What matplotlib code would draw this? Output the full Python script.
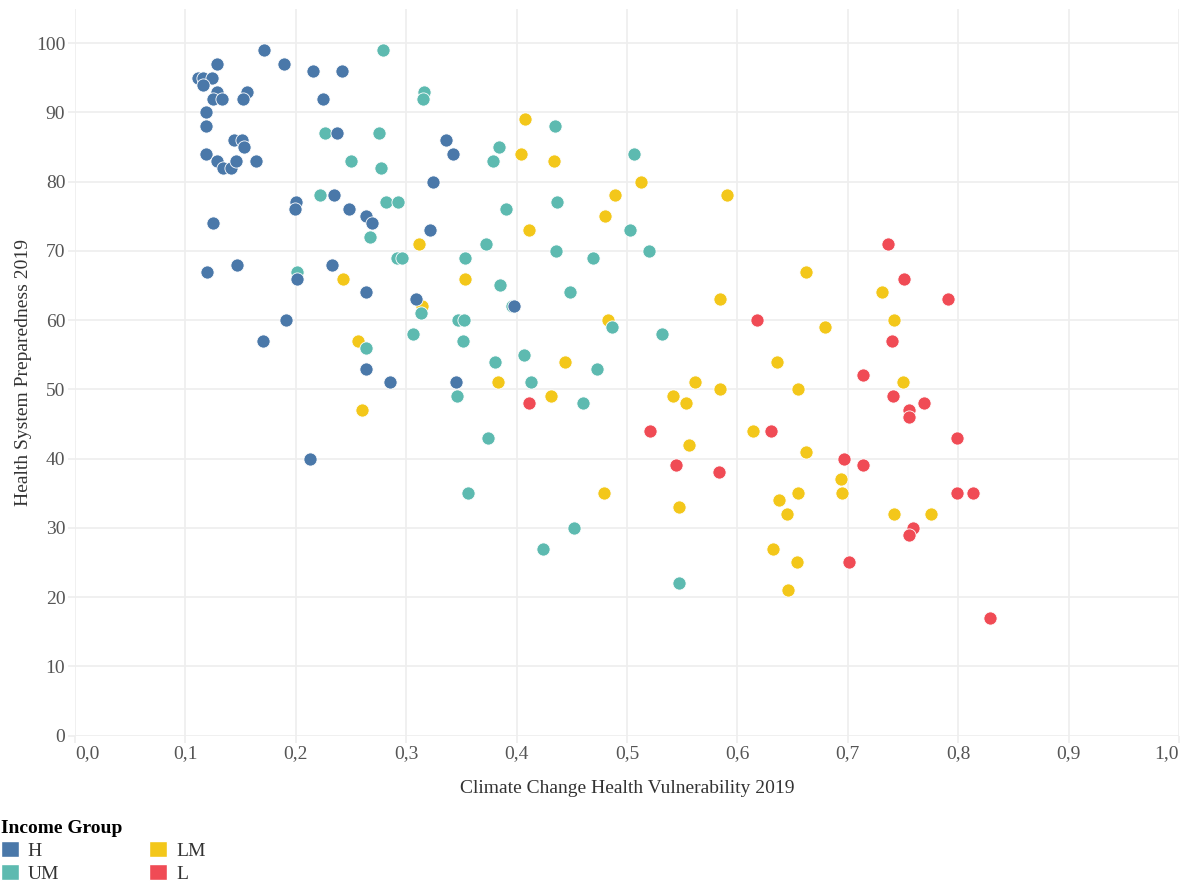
import matplotlib
matplotlib.use("Agg")
import matplotlib.pyplot as plt
from matplotlib.patches import Patch
from matplotlib.ticker import FuncFormatter

plt.rcParams['font.family'] = ['Liberation Serif', 'DejaVu Serif']

# income group H
h_x = [0.111, 0.116, 0.124, 0.116, 0.129, 0.129, 0.125, 0.133, 0.156, 0.152,
       0.119, 0.119, 0.144, 0.151, 0.153, 0.119, 0.129, 0.134, 0.141, 0.146,
       0.164, 0.125, 0.120, 0.147, 0.171, 0.189, 0.216, 0.242, 0.225, 0.237,
       0.200, 0.199, 0.235, 0.248, 0.264, 0.269, 0.233, 0.201, 0.264, 0.191,
       0.170, 0.264, 0.285, 0.213, 0.336, 0.342, 0.324, 0.322, 0.309, 0.398,
       0.345]
h_y = [95, 95, 95, 94, 97, 93, 92, 92, 93, 92,
       90, 88, 86, 86, 85, 84, 83, 82, 82, 83,
       83, 74, 67, 68, 99, 97, 96, 96, 92, 87,
       77, 76, 78, 76, 75, 74, 68, 66, 64, 60,
       57, 53, 51, 40, 86, 84, 80, 73, 63, 62,
       51]

# income group UM
um_x = [0.279, 0.226, 0.275, 0.250, 0.277, 0.222, 0.282, 0.293, 0.267, 0.292,
        0.296, 0.201, 0.264, 0.316, 0.315, 0.384, 0.379, 0.506, 0.435, 0.390,
        0.437, 0.503, 0.372, 0.436, 0.520, 0.353, 0.469, 0.385, 0.448, 0.313,
        0.347, 0.352, 0.306, 0.351, 0.380, 0.407, 0.396, 0.486, 0.532, 0.473,
        0.413, 0.346, 0.460, 0.374, 0.356, 0.452, 0.424, 0.547]
um_y = [99, 87, 87, 83, 82, 78, 77, 77, 72, 69,
        69, 67, 56, 93, 92, 85, 83, 84, 88, 76,
        77, 73, 71, 70, 70, 69, 69, 65, 64, 61,
        60, 60, 58, 57, 54, 55, 62, 59, 58, 53,
        51, 49, 48, 43, 35, 30, 27, 22]

# income group LM
lm_x = [0.243, 0.256, 0.260, 0.408, 0.404, 0.434, 0.513, 0.489, 0.591, 0.480,
        0.411, 0.312, 0.353, 0.584, 0.314, 0.483, 0.636, 0.444, 0.383, 0.431,
        0.562, 0.542, 0.553, 0.584, 0.655, 0.614, 0.556, 0.479, 0.547, 0.638,
        0.645, 0.655, 0.632, 0.654, 0.646, 0.662, 0.731, 0.742, 0.679, 0.750,
        0.662, 0.694, 0.695, 0.742, 0.775]
lm_y = [66, 57, 47, 89, 84, 83, 80, 78, 78, 75,
        73, 71, 66, 63, 62, 60, 54, 54, 51, 49,
        51, 49, 48, 50, 50, 44, 42, 35, 33, 34,
        32, 35, 27, 25, 21, 67, 64, 60, 59, 51,
        41, 37, 35, 32, 32]

# income group L
l_x = [0.411, 0.521, 0.544, 0.583, 0.618, 0.630, 0.736, 0.751, 0.791, 0.740,
       0.714, 0.741, 0.769, 0.755, 0.755, 0.799, 0.697, 0.714, 0.799, 0.813,
       0.759, 0.755, 0.701, 0.829]
l_y = [48, 44, 39, 38, 60, 44, 71, 66, 63, 57,
       52, 49, 48, 47, 46, 43, 40, 39, 35, 35,
       30, 29, 25, 17]

groups = ['H', 'UM', 'LM', 'L']
colors = {'H': '#4a78a9', 'UM': '#5dbab0', 'LM': '#f3c71a', 'L': '#f04b55'}
data = {'H': (h_x, h_y), 'UM': (um_x, um_y), 'LM': (lm_x, lm_y), 'L': (l_x, l_y)}

fig = plt.figure(figsize=(11.87, 8.84), dpi=100)
ax = fig.add_axes([75 / 1187, 1 - 735.5 / 884, 1104 / 1187, 727 / 884])

# draw order: L at bottom, H on top
for z, g in enumerate(['L', 'LM', 'UM', 'H']):
    xs, ys = data[g]
    ax.scatter(xs, ys, s=90, color=colors[g], edgecolors='white',
               linewidths=0.6, zorder=3 + z)

ax.set_xlim(0, 1.0)
ax.set_ylim(0, 105)
ax.set_xticks([i / 10 for i in range(11)])
ax.set_yticks(range(0, 101, 10))
ax.xaxis.set_major_formatter(FuncFormatter(lambda v, p: f"{v:.1f}".replace('.', ',')))

for s in ax.spines.values():
    s.set_visible(False)
ax.grid(True, color='#eeeeee', linewidth=1.2, zorder=0)
ax.set_axisbelow(True)
ax.tick_params(length=5, width=1.2, color='#eeeeee', labelcolor='#555555',
               labelsize=14, pad=2)

# keep the end labels inside the plot like the original
xlabels = ax.get_xticklabels()
xlabels[0].set_horizontalalignment('left')
xlabels[-1].set_horizontalalignment('right')

ax.set_xlabel('Climate Change Health Vulnerability 2019', fontsize=14,
              color='#333333', labelpad=13)
ax.set_ylabel('Health System Preparedness 2019', fontsize=14,
              color='#333333', labelpad=3)

handles = [Patch(facecolor=colors[g], edgecolor='white', label=g) for g in groups]
leg = fig.legend(handles=handles, ncol=2, loc='upper left',
                 bbox_to_anchor=(-0.006, 1 - 812 / 884), frameon=False,
                 title='Income Group', alignment='left',
                 title_fontproperties={'weight': 'bold', 'size': 14},
                 fontsize=14, handlelength=0.95, handleheight=0.95,
                 handletextpad=0.45, columnspacing=4.6, labelspacing=0.2,
                 borderaxespad=0)
for t in leg.get_texts():
    t.set_color('#333333')

fig.savefig('out.png', dpi=100)
